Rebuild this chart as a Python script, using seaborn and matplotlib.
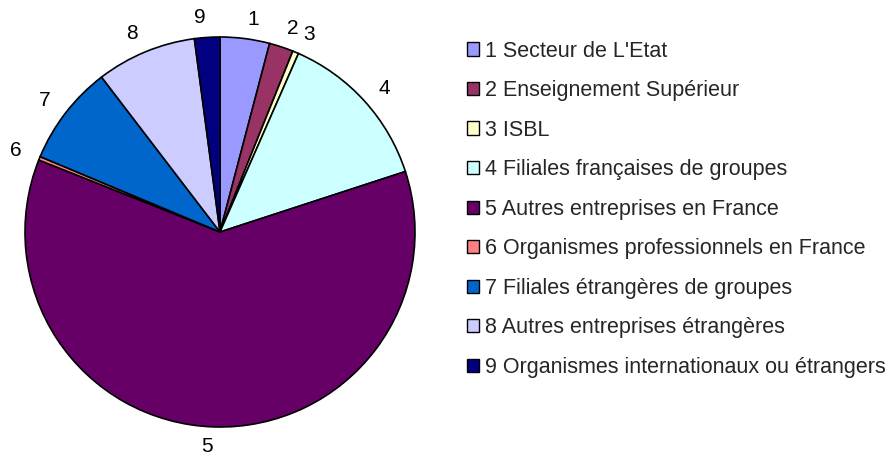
import matplotlib
matplotlib.use("Agg")
import matplotlib.pyplot as plt
from matplotlib.patches import Patch
import seaborn as sns

categories = ["1 Secteur de L'Etat", "2 Enseignement Supérieur", "3 ISBL",
              "4 Filiales françaises de groupes", "5 Autres entreprises en France",
              "6 Organismes professionnels en France", "7 Filiales étrangères de groupes",
              "8 Autres entreprises étrangères", "9 Organismes internationaux ou étrangers"]
numbers = ["1", "2", "3", "4", "5", "6", "7", "8", "9"]
values = [4.1, 2.0, 0.5, 13.4, 61.1, 0.3, 8.3, 8.3, 2.1]
colors = ["#9999FF", "#993366", "#FFFFCC", "#CCFFFF", "#660066",
          "#FF8080", "#0066CC", "#CCCCFF", "#000080"]

sns.set_style("white")
plt.rcParams["font.family"] = ["Liberation Sans", "DejaVu Sans"]

W, H = 889, 455
fig = plt.figure(figsize=(W / 100, H / 100), dpi=100)
cx, cy, r = 220, 232, 195
ax = fig.add_axes([(cx - r) / W, (H - cy - r) / H, 2 * r / W, 2 * r / H])

wedges, texts = ax.pie(values, labels=numbers, colors=colors, startangle=90,
                       counterclock=False, labeldistance=1.1,
                       wedgeprops=dict(edgecolor="black", linewidth=1.2),
                       textprops=dict(fontsize=15, color="black"))
ax.set_aspect("equal")
ax.set_xlim(-1, 1)
ax.set_ylim(-1, 1)
ax.axis("off")

handles = [Patch(facecolor=c, edgecolor="black", linewidth=1) for c in colors]
fig.legend(handles, categories, loc="upper left", bbox_to_anchor=(456 / W, 1 - 30 / H),
           frameon=False, fontsize=15.5, handlelength=0.58, handleheight=0.58,
           handletextpad=0.25, labelspacing=0.86, borderpad=0)

fig.savefig("out.png", dpi=100)
